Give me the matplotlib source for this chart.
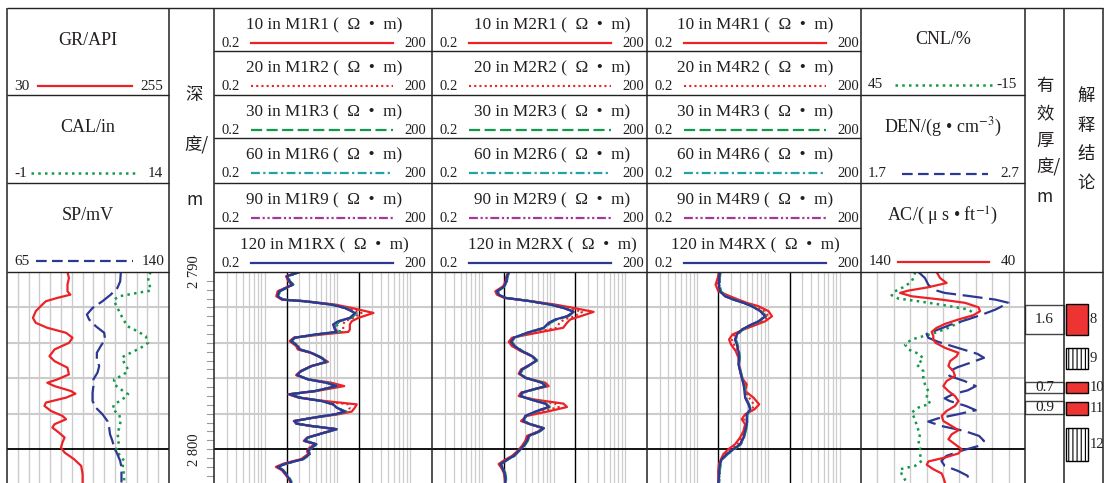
import numpy as np
import matplotlib
matplotlib.use("Agg")
import matplotlib.pyplot as plt
from matplotlib.patches import Rectangle

plt.rcParams['font.family'] = ['Liberation Serif', 'Noto Sans CJK SC', 'DejaVu Sans']
plt.rcParams['mathtext.fontset'] = 'stix'
plt.rcParams['hatch.linewidth'] = 0.8
plt.rcParams['lines.solid_joinstyle'] = 'round'
plt.rcParams['lines.dash_joinstyle'] = 'round'

# ------------------------------------------------------------------ data
GR_DEPTH = [2790.00, 2790.34, 2790.71, 2791.09, 2791.28, 2791.46, 2791.65, 2791.84, 2792.21, 2792.59,
            2792.87, 2793.15, 2793.43, 2793.71, 2794.00, 2794.37, 2794.75, 2795.03, 2795.40, 2795.78,
            2796.06, 2796.25, 2796.44, 2796.72, 2796.87, 2797.09, 2797.37, 2797.56, 2797.84, 2798.12,
            2798.31, 2798.59, 2798.78, 2799.06, 2799.34, 2799.62, 2799.91, 2800.19, 2800.56, 2800.94,
            2801.41, 2801.88]
GR = [114, 116, 114, 114, 118, 100, 84, 79, 70, 66, 70, 86, 112, 121, 116, 96, 89, 96, 114, 116,
      100, 86, 96, 119, 125, 112, 84, 82, 91, 107, 112, 96, 93, 102, 110, 107, 105, 110, 123, 133,
      135, 135]

CAL_DEPTH = [2790.00, 2790.34, 2790.71, 2791.05, 2791.18, 2791.37, 2791.56, 2791.84, 2792.21, 2792.59,
             2793.06, 2793.34, 2793.62, 2794.00, 2794.28, 2794.56, 2794.80, 2795.12, 2795.50, 2795.78,
             2796.06, 2796.34, 2796.62, 2796.90, 2797.19, 2797.47, 2797.75, 2798.03, 2798.41, 2798.78,
             2799.16, 2799.53, 2799.81, 2800.09, 2800.38, 2800.66, 2801.03, 2801.41, 2801.88]
CAL = [12.3, 12.06, 12.2, 12.3, 11.07, 9.38, 8.92, 9.07, 9.38, 9.69, 10.15, 11.07, 11.84, 12.06, 11.38,
       10.46, 9.69, 9.84, 10.21, 9.84, 8.92, 8.92, 9.53, 10.21, 9.69, 8.92, 8.76, 9.38, 9.53, 9.38,
       9.23, 9.38, 9.23, 9.07, 9.53, 9.84, 9.69, 9.84, 9.84]

SP_DEPTH = [2790.00, 2790.53, 2790.90, 2791.28, 2791.65, 2792.03, 2792.40, 2792.68, 2793.06, 2793.43,
            2793.81, 2794.18, 2794.56, 2794.93, 2795.31, 2795.68, 2796.06, 2796.44, 2796.81, 2797.28,
            2797.65, 2798.03, 2798.41, 2798.78, 2799.16, 2799.53, 2799.91, 2800.28, 2800.66, 2801.03,
            2801.41, 2801.88]
SP = [117.7, 117.4, 116.1, 113.0, 109.2, 104.6, 102.0, 103.0, 106.1, 110.0, 110.4, 108.4, 106.6, 106.6,
      107.7, 106.9, 105.0, 105.0, 104.6, 104.6, 106.1, 109.2, 111.5, 112.3, 112.7, 113.8, 114.6, 116.1,
      117.4, 118.0, 118.0, 118.0]

M1_DEPTH = [2790.00, 2790.24, 2790.53, 2790.71, 2790.90, 2791.09, 2791.37, 2791.56, 2791.65, 2791.84,
            2792.03, 2792.31, 2792.59, 2792.78, 2792.96, 2793.25, 2793.38, 2793.53, 2793.71, 2793.90,
            2794.18, 2794.37, 2794.56, 2794.84, 2795.07, 2795.31, 2795.59, 2795.82, 2796.06, 2796.25,
            2796.44, 2796.72, 2796.90, 2797.09, 2797.28, 2797.47, 2797.65, 2797.88, 2798.03, 2798.22,
            2798.41, 2798.56, 2798.69, 2798.87, 2799.06, 2799.34, 2799.53, 2799.72, 2799.91, 2800.09,
            2800.28, 2800.56, 2800.81, 2801.00, 2801.18, 2801.41, 2801.69, 2801.88]
M1R1 = [2.90, 1.96, 2.11, 2.37, 1.90, 1.50, 1.44, 1.72, 3.71, 9.38, 15.7, 31.3, 19.4, 15.7, 14.8, 14.8,
        14.1, 6.0, 2.50, 2.20, 2.70, 2.84, 4.26, 6.0, 7.42, 4.36, 3.10, 2.70, 4.0, 8.26, 12.4, 5.11,
        2.11, 2.90, 6.67, 18.4, 17.4, 15.7, 10.2, 4.84, 2.50, 2.90, 4.26, 9.7, 6.67, 3.83, 3.44, 4.95,
        4.13, 3.83, 3.92, 3.16, 1.82, 1.42, 1.71, 1.90, 2.15, 2.25]
M1R2 = [2.95, 1.99, 2.15, 2.40, 1.93, 1.54, 1.47, 1.74, 3.6, 8.8, 14.0, 21.5, 16.5, 12.6, 12.0, 12.0,
        12.0, 5.4, 2.52, 2.25, 2.77, 2.92, 4.3, 6.0, 7.2, 4.36, 3.13, 2.74, 3.96, 7.6, 10.8, 4.95,
        2.15, 2.95, 6.3, 14.1, 14.8, 14.0, 9.6, 4.7, 2.52, 2.8, 4.3, 9.7, 6.67, 3.88, 3.48, 5.0,
        4.25, 3.88, 4.0, 3.25, 1.89, 1.46, 1.74, 1.93, 2.16, 2.28]
M1R3 = [3.05, 2.06, 2.24, 2.48, 2.0, 1.62, 1.53, 1.80, 3.55, 8.4, 13.0, 18.4, 15.7, 10.8, 9.7, 10.8,
        10.8, 5.11, 2.62, 2.36, 2.92, 3.08, 4.45, 6.15, 7.2, 4.45, 3.24, 2.85, 4.0, 7.2, 9.9, 4.95,
        2.24, 3.08, 6.15, 9.0, 9.7, 13.3, 9.5, 4.75, 2.62, 2.78, 4.45, 9.9, 6.85, 4.0, 3.6, 5.25,
        4.45, 4.0, 4.25, 3.42, 2.0, 1.54, 1.80, 2.0, 2.24, 2.36]
M1R6 = [3.0, 2.04, 2.2, 2.45, 1.98, 1.6, 1.52, 1.78, 3.52, 8.3, 12.8, 17.8, 15.0, 10.5, 9.2, 10.0,
        10.2, 4.9, 2.58, 2.33, 2.88, 3.04, 4.4, 6.05, 7.1, 4.4, 3.2, 2.8, 3.95, 7.1, 9.8, 4.88,
        2.2, 3.03, 6.05, 8.8, 9.7, 12.8, 9.3, 4.65, 2.58, 2.73, 4.4, 9.8, 6.75, 3.95, 3.56, 5.16,
        4.4, 3.95, 4.17, 3.37, 1.98, 1.52, 1.78, 1.98, 2.2, 2.32]
M1R9 = [3.0, 2.03, 2.19, 2.43, 1.97, 1.59, 1.51, 1.77, 3.52, 8.28, 12.7, 17.6, 14.9, 10.3, 8.9, 9.5,
        9.9, 4.86, 2.56, 2.31, 2.86, 3.02, 4.38, 6.02, 7.06, 4.38, 3.18, 2.79, 3.93, 7.06, 9.75, 4.86,
        2.19, 3.01, 6.02, 8.75, 9.7, 12.7, 9.25, 4.62, 2.56, 2.71, 4.38, 9.75, 6.7, 3.93, 3.54, 5.13,
        4.38, 3.93, 4.15, 3.35, 1.97, 1.51, 1.77, 1.97, 2.19, 2.31]
M1RX = [3.0, 2.02, 2.18, 2.42, 1.96, 1.58, 1.50, 1.76, 3.52, 8.26, 12.6, 17.4, 14.8, 10.2, 8.7, 9.2,
        9.7, 4.84, 2.55, 2.30, 2.84, 3.0, 4.36, 6.0, 7.03, 4.36, 3.16, 2.78, 3.92, 7.03, 9.7, 4.84,
        2.18, 3.0, 6.0, 8.7, 9.7, 12.6, 9.2, 4.6, 2.55, 2.70, 4.36, 9.7, 6.67, 3.92, 3.52, 5.11,
        4.36, 3.92, 4.13, 3.33, 1.96, 1.50, 1.76, 1.96, 2.18, 2.30]

M2_DEPTH = [2790.00, 2790.24, 2790.53, 2790.81, 2791.09, 2791.28, 2791.46, 2791.65, 2791.84, 2792.03,
            2792.25, 2792.50, 2792.68, 2792.87, 2793.15, 2793.43, 2793.71, 2793.94, 2794.18, 2794.47,
            2794.75, 2794.99, 2795.22, 2795.50, 2795.74, 2795.97, 2796.25, 2796.44, 2796.62, 2796.81,
            2797.00, 2797.19, 2797.43, 2797.62, 2797.84, 2798.12, 2798.41, 2798.59, 2798.82, 2799.01,
            2799.25, 2799.53, 2799.81, 2800.09, 2800.38, 2800.62, 2800.84, 2801.03, 2801.31, 2801.59,
            2801.88]
M2R1 = [2.35, 2.18, 2.13, 1.96, 1.53, 1.61, 2.04, 4.97, 10.5, 19.0, 36.0, 23.5, 17.0, 15.3, 13.5, 5.84,
        2.61, 2.35, 2.61, 3.49, 4.97, 5.84, 4.71, 3.49, 3.24, 4.01, 7.62, 8.49, 5.35, 3.49, 3.24, 5.24,
        13.7, 15.3, 8.96, 4.23, 3.49, 4.61, 7.23, 5.96, 4.23, 4.01, 3.60, 3.14, 2.61, 2.04, 1.70, 1.84,
        2.0, 2.06, 2.09]
M2R2 = [2.35, 2.2, 2.15, 2.0, 1.57, 1.65, 2.08, 4.85, 9.7, 16.0, 25.0, 19.5, 14.0, 12.0, 11.0, 5.0,
        2.68, 2.44, 2.7, 3.55, 4.97, 5.78, 4.71, 3.55, 3.3, 4.01, 7.2, 8.1, 5.3, 3.55, 3.33, 5.0,
        10.5, 11.8, 7.2, 4.1, 3.6, 4.66, 7.23, 6.05, 4.35, 4.1, 3.7, 3.2, 2.68, 2.1, 1.75, 1.87,
        2.02, 2.08, 2.1]
M2R3 = [2.4, 2.28, 2.22, 2.08, 1.65, 1.74, 2.15, 4.8, 9.1, 14.0, 19.5, 16.0, 11.0, 9.0, 7.6, 4.4,
        2.85, 2.6, 2.9, 3.7, 5.1, 5.85, 4.85, 3.7, 3.42, 4.1, 7.0, 7.8, 5.4, 3.7, 3.5, 4.85,
        7.9, 8.8, 6.0, 4.1, 3.82, 4.85, 7.4, 6.3, 4.6, 4.35, 3.9, 3.32, 2.83, 2.24, 1.85, 1.95,
        2.1, 2.16, 2.16]
M2R6 = [2.37, 2.25, 2.2, 2.06, 1.63, 1.72, 2.13, 4.75, 9.0, 13.8, 19.2, 15.5, 10.7, 8.7, 7.35, 4.3,
        2.8, 2.56, 2.85, 3.64, 5.02, 5.76, 4.76, 3.64, 3.37, 4.05, 6.92, 7.7, 5.3, 3.64, 3.46, 4.76,
        7.7, 8.6, 5.9, 4.05, 3.76, 4.76, 7.3, 6.22, 4.52, 4.27, 3.84, 3.27, 2.79, 2.2, 1.82, 1.92,
        2.06, 2.13, 2.13]
M2R9 = [2.36, 2.24, 2.19, 2.05, 1.62, 1.71, 2.12, 4.73, 8.98, 13.75, 19.1, 15.4, 10.6, 8.6, 7.3, 4.27,
        2.78, 2.55, 2.84, 3.62, 5.0, 5.74, 4.74, 3.62, 3.36, 4.03, 6.9, 7.66, 5.27, 3.62, 3.44, 4.74,
        7.66, 8.55, 5.87, 4.03, 3.74, 4.74, 7.27, 6.2, 4.5, 4.25, 3.82, 3.26, 2.78, 2.19, 1.81, 1.91,
        2.05, 2.12, 2.12]
M2RX = [2.35, 2.23, 2.18, 2.04, 1.61, 1.70, 2.11, 4.71, 8.96, 13.7, 19.0, 15.3, 10.5, 8.49, 7.23, 4.23,
        2.76, 2.53, 2.82, 3.60, 4.97, 5.71, 4.71, 3.60, 3.34, 4.01, 6.85, 7.62, 5.24, 3.60, 3.42, 4.71,
        7.62, 8.49, 5.84, 4.01, 3.72, 4.71, 7.23, 6.16, 4.47, 4.23, 3.80, 3.24, 2.76, 2.18, 1.80, 1.90,
        2.04, 2.11, 2.11]

M4_DEPTH = [2790.00, 2790.34, 2790.71, 2791.09, 2791.37, 2791.56, 2791.74, 2791.93, 2792.21, 2792.50,
            2792.78, 2793.00, 2793.25, 2793.53, 2793.81, 2794.09, 2794.47, 2794.84, 2795.22, 2795.59,
            2795.97, 2796.34, 2796.72, 2797.09, 2797.47, 2797.75, 2798.03, 2798.31, 2798.59, 2798.97,
            2799.34, 2799.72, 2800.00, 2800.28, 2800.56, 2800.84, 2801.22, 2801.59, 2801.88]
M4R1 = [2.04, 1.96, 1.83, 2.0, 2.92, 3.83, 5.01, 7.32, 10.1, 11.3, 9.08, 6.57, 4.50, 3.15, 2.83, 3.01,
        3.51, 3.83, 3.91, 4.04, 4.26, 5.01, 4.75, 6.22, 7.48, 6.43, 4.75, 4.26, 4.75, 4.50, 4.04, 3.43,
        2.77, 2.35, 2.18, 2.04, 2.0, 2.0, 2.0]
M4R2 = [2.08, 2.0, 1.93, 2.05, 2.7, 3.55, 4.75, 6.5, 8.8, 10.1, 8.2, 6.0, 4.38, 3.38, 3.1, 3.3,
        3.67, 3.87, 3.87, 4.04, 4.26, 4.75, 4.7, 5.4, 6.3, 6.0, 4.88, 4.6, 4.88, 4.62, 4.27, 3.73,
        3.0, 2.48, 2.2, 2.08, 2.02, 2.02, 2.0]
M4R3 = [2.15, 2.1, 2.1, 2.18, 2.58, 3.35, 4.6, 6.0, 7.95, 9.4, 7.6, 5.75, 4.4, 3.75, 3.52, 3.72,
        3.92, 4.0, 3.92, 4.12, 4.35, 4.6, 4.75, 4.88, 5.4, 5.7, 5.12, 5.1, 5.1, 4.85, 4.6, 4.15,
        3.38, 2.72, 2.3, 2.16, 2.1, 2.1, 2.06]
M4R6 = [2.12, 2.06, 2.06, 2.14, 2.52, 3.3, 4.55, 5.95, 7.8, 9.2, 7.4, 5.65, 4.32, 3.68, 3.47, 3.67,
        3.87, 3.95, 3.87, 4.08, 4.3, 4.55, 4.7, 4.8, 5.35, 5.64, 5.06, 5.05, 5.05, 4.8, 4.55, 4.1,
        3.3, 2.66, 2.26, 2.13, 2.06, 2.06, 2.03]
M4R9 = [2.11, 2.05, 2.05, 2.12, 2.5, 3.27, 4.52, 5.92, 7.76, 9.14, 7.36, 5.6, 4.28, 3.65, 3.45, 3.65,
        3.85, 3.93, 3.85, 4.06, 4.28, 4.52, 4.67, 4.77, 5.32, 5.6, 5.03, 5.03, 5.03, 4.77, 4.52, 4.06,
        3.27, 2.64, 2.24, 2.12, 2.05, 2.05, 2.01]
M4RX = [2.11, 2.04, 2.04, 2.11, 2.48, 3.25, 4.50, 5.89, 7.73, 9.08, 7.32, 5.58, 4.26, 3.63, 3.43, 3.63,
        3.83, 3.91, 3.83, 4.04, 4.26, 4.50, 4.65, 4.75, 5.30, 5.58, 5.01, 5.01, 5.01, 4.75, 4.50, 4.04,
        3.25, 2.62, 2.23, 2.11, 2.04, 2.04, 2.0]

CNL_DEPTH = [2790.00, 2790.24, 2790.53, 2790.81, 2791.09, 2791.31, 2791.50, 2791.65, 2791.88, 2792.12,
             2792.31, 2792.50, 2792.78, 2793.15, 2793.43, 2793.62, 2793.81, 2794.09, 2794.37, 2794.65,
             2794.93, 2795.22, 2795.59, 2795.97, 2796.34, 2796.72, 2797.09, 2797.43, 2797.65, 2797.94,
             2798.31, 2798.69, 2799.16, 2799.53, 2799.91, 2800.28, 2800.66, 2800.94, 2801.13, 2801.41,
             2801.88]
CNL = [25.2, 25.5, 26.5, 28.9, 32.6, 33.8, 31.3, 24.0, 14.3, 5.7, 3.9, 4.5, 8.2, 13.0, 17.9, 22.2,
       26.5, 28.9, 27.7, 23.4, 22.2, 24.6, 22.2, 22.2, 21.6, 20.4, 21.0, 19.7, 24.0, 26.5, 25.2, 24.6,
       23.4, 24.0, 23.4, 23.4, 22.8, 25.2, 30.7, 30.1, 28.3]

DEN_DEPTH = [2790.00, 2790.34, 2790.71, 2790.99, 2791.18, 2791.37, 2791.56, 2791.74, 2791.93, 2792.12,
             2792.40, 2792.68, 2792.96, 2793.25, 2793.49, 2793.71, 2793.94, 2794.28, 2794.62, 2794.84,
             2795.08, 2795.37, 2795.63, 2795.87, 2796.15, 2796.44, 2796.68, 2796.90, 2797.13, 2797.28,
             2797.56, 2797.80, 2798.03, 2798.26, 2798.44, 2798.69, 2798.97, 2799.25, 2799.53, 2799.81,
             2800.09, 2800.38, 2800.66, 2800.94, 2801.22, 2801.50, 2801.88]
DEN = [2.05, 2.09, 2.11, 2.14, 2.21, 2.37, 2.52, 2.60, 2.56, 2.52, 2.44, 2.35, 2.25, 2.17, 2.10, 2.11,
       2.17, 2.29, 2.41, 2.45, 2.38, 2.29, 2.23, 2.24, 2.33, 2.40, 2.35, 2.26, 2.21, 2.24, 2.34, 2.40,
       2.29, 2.17, 2.11, 2.19, 2.33, 2.42, 2.45, 2.42, 2.31, 2.22, 2.19, 2.21, 2.29, 2.35, 2.36]

AC_DEPTH = [2790.00, 2790.34, 2790.62, 2790.86, 2791.05, 2791.18, 2791.37, 2791.56, 2791.74, 2791.99,
            2792.21, 2792.44, 2792.68, 2792.93, 2793.15, 2793.38, 2793.62, 2793.81, 2794.00, 2794.28,
            2794.56, 2794.75, 2795.03, 2795.31, 2795.59, 2795.87, 2796.15, 2796.44, 2796.72, 2797.00,
            2797.28, 2797.56, 2797.84, 2798.12, 2798.41, 2798.69, 2798.93, 2799.16, 2799.44, 2799.72,
            2800.00, 2800.24, 2800.47, 2800.69, 2800.88, 2801.13, 2801.37, 2801.59, 2801.88]
AC = [93.9, 91.8, 87.8, 98.9, 111.1, 116.2, 109.1, 90.8, 76.6, 68.4, 67.4, 71.5, 80.6, 88.8, 93.9, 96.9,
      95.9, 95.9, 94.5, 88.8, 80.6, 81.7, 85.7, 86.7, 83.7, 82.7, 87.8, 89.8, 86.7, 82.7, 80.6, 82.7,
      87.8, 90.8, 89.8, 84.7, 80.6, 84.7, 86.7, 82.7, 78.6, 80.6, 88.8, 98.9, 99.9, 95.9, 90.8, 89.8,
      88.8]

# interpretation column
ZONE_LABEL = ['8', '9', '10', '11', '12']
ZONE_TOP = [2791.80, 2794.30, 2796.21, 2797.33, 2798.80]
ZONE_BOT = [2793.58, 2795.47, 2796.85, 2798.05, 2800.66]
ZONE_OIL = [True, False, True, True, False]
THICK_TEXT = ['1.6', '0.7', '0.9']
THICK_TOP = [2791.88, 2796.18, 2797.26]
THICK_BOT = [2793.50, 2796.84, 2798.00]

# scales / labels
COL1_TITLE = ['GR/API', 'CAL/in', 'SP/mV']
COL1_MIN = ['30', '-1', '65']
COL1_MAX = ['255', '14', '140']
RES_TOOLS = ['M1', 'M2', 'M4']
RES_SPACING = ['10', '20', '30', '60', '90', '120']
RES_SUFFIX = ['R1', 'R2', 'R3', 'R6', 'R9', 'RX']
RES_MIN, RES_MAX = 0.2, 200
POR_TITLE = ['CNL/%', r'DEN/(g • cm$^{-3}$)', r'AC/( μ s • ft$^{-1}$)']
POR_MIN = ['45', '1.7', '140']
POR_MAX = ['-15', '2.7', '40']
DEPTH_LABELS = [2790, 2800]

# ------------------------------------------------------------------ layout
W, H = 1110, 483
Y_TOP, Y_HEAD, Y_BOT = 8, 272, 483
PX_PER_M = 17.72
DEPTH_TOP = 2790.0
DEPTH_BOT = DEPTH_TOP + (Y_BOT - Y_HEAD) / PX_PER_M
COL_X = [7, 169, 214, 432, 647, 861, 1025, 1064, 1103]

RED = '#ec2227'
BLUE = '#2c3892'
GREEN = '#129a4a'
CYAN = '#1fa3a6'
MAG = '#a3389c'
GRID = '#cccccc'
TXT = '#231f20'
LW = 1.6

fig = plt.figure(figsize=(W / 100, H / 100), dpi=100)


def data_axes(x0, x1):
    a = fig.add_axes([x0 / W, 1 - Y_BOT / H, (x1 - x0) / W, (Y_BOT - Y_HEAD) / H])
    a.set_ylim(DEPTH_BOT, DEPTH_TOP)
    a.set_axis_off()
    return a


def hgrid(a):
    for d in [2792, 2794, 2796, 2798]:
        a.axhline(d, color=GRID, lw=1.5, zorder=0)
    a.axhline(2800, color='black', lw=1.3, zorder=0.5)


# ---- track 1: GR / CAL / SP
aGR = data_axes(COL_X[0], COL_X[1])
aGR.set_xlim(30, 255)
for v in np.linspace(30, 255, 16)[1:-1]:
    aGR.axvline(v, color=GRID, lw=1.0, zorder=0)
hgrid(aGR)
aCAL = data_axes(COL_X[0], COL_X[1]); aCAL.set_xlim(-1, 14)
aSP = data_axes(COL_X[0], COL_X[1]); aSP.set_xlim(65, 140)
aGR.plot(GR, GR_DEPTH, color=RED, lw=LW)
aCAL.plot(CAL, CAL_DEPTH, color=GREEN, lw=1.8, ls=(0, (1, 1.7)))
aSP.plot(SP, SP_DEPTH, color=BLUE, lw=LW, ls=(0, (8, 2.5)))

# ---- depth track
aDep = data_axes(COL_X[1], COL_X[2])
aDep.set_xlim(0, COL_X[2] - COL_X[1])
for d in np.arange(DEPTH_TOP + 0.5, DEPTH_BOT, 0.5):
    aDep.plot([38, 45], [d, d], color='#9a9a9a', lw=0.8)
for d in DEPTH_LABELS:
    aDep.text(26, d, f'{d // 1000} {d % 1000:03d}', rotation=90, ha='center', va='center',
              fontsize=10.5, color=TXT, family='Liberation Serif', clip_on=False)

# ---- resistivity tracks
RES_DATA = [(M1_DEPTH, [M1R1, M1R2, M1R3, M1R6, M1R9, M1RX]),
            (M2_DEPTH, [M2R1, M2R2, M2R3, M2R6, M2R9, M2RX]),
            (M4_DEPTH, [M4R1, M4R2, M4R3, M4R6, M4R9, M4RX])]
RES_STYLE = [(RED, '-', LW), (RED, (0, (1, 1.5)), 1.5), (GREEN, (0, (5, 2)), LW),
             (CYAN, (0, (4, 1.5, 1, 1.5)), LW), (MAG, (0, (4, 1.2, 1, 1.2, 1, 1.2)), LW),
             (BLUE, '-', LW)]
minor_vals = [round(k * 10.0 ** n, 6) for n in (-1, 0, 1, 2) for k in range(1, 10)]
minor_vals = [v for v in minor_vals if RES_MIN < v < RES_MAX and v not in (2.0, 20.0)]
for i in range(3):
    a = data_axes(COL_X[2 + i], COL_X[3 + i])
    a.set_xscale('log')
    a.set_xlim(RES_MIN, RES_MAX)
    for v in minor_vals:
        a.axvline(v, color=GRID, lw=0.9, zorder=0)
    hgrid(a)
    for v in (2, 20):
        a.axvline(v, color='black', lw=1.0, zorder=0.5)
    depth, curves = RES_DATA[i]
    for c, (col, ls, lw) in zip(curves, RES_STYLE):
        a.plot(c, depth, color=col, ls=ls, lw=lw)

# ---- porosity track
aCNL = data_axes(COL_X[5], COL_X[6]); aCNL.set_xlim(45, -15)
for v in np.linspace(45, -15, 11)[1:-1]:
    aCNL.axvline(v, color=GRID, lw=1.0, zorder=0)
hgrid(aCNL)
aDEN = data_axes(COL_X[5], COL_X[6]); aDEN.set_xlim(1.7, 2.7)
aAC = data_axes(COL_X[5], COL_X[6]); aAC.set_xlim(140, 40)
aCNL.plot(CNL, CNL_DEPTH, color=GREEN, lw=1.8, ls=(0, (1, 1.7)))
aDEN.plot(DEN, DEN_DEPTH, color=BLUE, lw=LW, ls=(0, (9, 3)))
aAC.plot(AC, AC_DEPTH, color=RED, lw=LW)

# ---- interpretation columns
aR = data_axes(COL_X[6], COL_X[8])
aR.set_xlim(0, COL_X[8] - COL_X[6])
for t, tp, bt in zip(THICK_TEXT, THICK_TOP, THICK_BOT):
    aR.add_patch(Rectangle((0, tp), 39, bt - tp, fc='white', ec='#444444', lw=1.0))
    aR.text(19.5, (tp + bt) / 2, t, ha='center', va='center', fontsize=11, color=TXT)
for lab, tp, bt, oil in zip(ZONE_LABEL, ZONE_TOP, ZONE_BOT, ZONE_OIL):
    if oil:
        aR.add_patch(Rectangle((41, tp), 22, bt - tp, fc='#ee3333', ec='black', lw=1.0))
    else:
        aR.add_patch(Rectangle((41, tp), 22, bt - tp, fc='white', ec='black', lw=1.0,
                               hatch='||||'))
    aR.text(64.5, (tp + bt) / 2, lab, ha='left', va='center', fontsize=10.5, color=TXT)

# ------------------------------------------------------------------ header / frame overlay
ov = fig.add_axes([0, 0, 1, 1])
ov.set_xlim(0, W)
ov.set_ylim(H, 0)
ov.set_axis_off()


def hline(x0, x1, y, lw=1.0):
    ov.plot([x0, x1], [y, y], color='#222222', lw=lw, solid_capstyle='butt')


for x in COL_X:
    ov.plot([x, x], [Y_TOP, Y_BOT + 2], color='#222222', lw=1.1, solid_capstyle='butt')
hline(COL_X[0], COL_X[-1], Y_TOP)
hline(COL_X[0], COL_X[1], Y_HEAD)
hline(COL_X[2], COL_X[-1], Y_HEAD)
COL1_ROWS = [8, 95, 183]
for y in COL1_ROWS[1:]:
    hline(COL_X[0], COL_X[1], y)
    hline(COL_X[5], COL_X[6], y)
RES_ROWS = [8, 51, 95, 138, 183, 228]
for y in RES_ROWS[1:]:
    hline(COL_X[2], COL_X[5], y)

# col 1 header
STYLE1 = [(RED, '-', LW), (GREEN, (0, (1, 1.7)), 1.8), (BLUE, (0, (4.8, 2.4)), LW)]
NUM_X1 = [(21.7, 152.3, 38, 132), (20.7, 155.5, 31, 139), (21.7, 152.7, 36, 133)]
for i, T in enumerate(COL1_ROWS):
    ov.text(88, T + 37, COL1_TITLE[i], ha='center', va='baseline', fontsize=13, color=TXT)
    lx, rx, l0, l1 = NUM_X1[i]
    ov.text(lx, T + 82, COL1_MIN[i], ha='center', va='baseline', fontsize=11, color=TXT)
    ov.text(rx, T + 82, COL1_MAX[i], ha='center', va='baseline', fontsize=11, color=TXT)
    col, ls, lw = STYLE1[i]
    ov.plot([l0, l1], [T + 78, T + 78], color=col, ls=ls, lw=lw)

# resistivity headers
TITLE_CX = [324, 552, 755]
for i, tool in enumerate(RES_TOOLS):
    L = COL_X[2 + i]
    for j, T in enumerate(RES_ROWS):
        title = f'{RES_SPACING[j]} in {tool}{RES_SUFFIX[j]} (  Ω  •  m)'
        ov.text(TITLE_CX[i], T + 21.5, title, ha='center', va='baseline', fontsize=12.3, color=TXT)
        ov.text(L + 17, T + 39, f'{RES_MIN:g}', ha='center', va='baseline', fontsize=10.5, color=TXT)
        ov.text(L + 201, T + 39, f'{RES_MAX:g}', ha='center', va='baseline', fontsize=10.5, color=TXT)
        col, ls, lw = RES_STYLE[j]
        ov.plot([L + 37, L + 179], [T + 34.5, T + 34.5], color=col, ls=ls, lw=lw)

# porosity header
STYLE3 = [(GREEN, (0, (1, 1.7)), 1.8), (BLUE, (0, (4.8, 2.4)), LW), (RED, '-', LW)]
NUM_X3 = [(875, 1007, 895, 993), (877, 1010, 902, 988), (880, 1008, 898, 989)]
for i, T in enumerate(COL1_ROWS):
    ov.text(943, T + 35.5 if i == 0 else T + 37.5, POR_TITLE[i], ha='center', va='baseline',
            fontsize=13, color=TXT)
    lx, rx, l0, l1 = NUM_X3[i]
    ny = T + 80.5 if i == 0 else T + 82
    ov.text(lx, ny, POR_MIN[i], ha='center', va='baseline', fontsize=11, color=TXT)
    ov.text(rx, ny, POR_MAX[i], ha='center', va='baseline', fontsize=11, color=TXT)
    col, ls, lw = STYLE3[i]
    ov.plot([l0, l1], [ny - 3.5, ny - 3.5], color=col, ls=ls, lw=lw)

# vertical CJK headers
CJK = 'Noto Sans CJK SC'
for ch, y in zip(['深', '度/', 'm'], [95, 145, 200]):
    ov.text(194 if ch != '度/' else 196.5, y, ch, ha='center', va='center', fontsize=12.5,
            color=TXT, family=[CJK, 'Liberation Serif'])
for ch, y in zip(['有', '效', '厚', '度/', 'm'], [85.5, 113.5, 141, 167, 197]):
    ov.text(1045 if ch != '度/' else 1048, y, ch, ha='center', va='center', fontsize=12.5,
            color=TXT, family=[CJK, 'Liberation Serif'])
for ch, y in zip(['解', '释', '结', '论'], [96, 126, 154.5, 183]):
    ov.text(1086, y, ch, ha='center', va='center', fontsize=12.5, color=TXT, family=[CJK])

fig.savefig('out.png', dpi=100)
